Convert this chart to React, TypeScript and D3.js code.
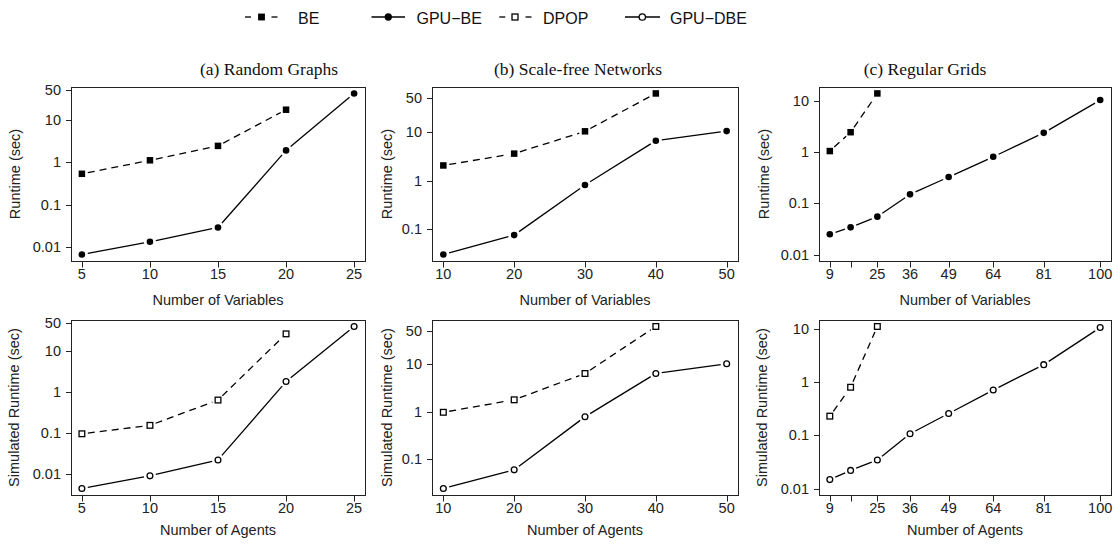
import React from "react";
import * as d3 from "d3";

// ---- data ----
const randomVars = [5, 10, 15, 20, 25];
const randomBE = [0.53, 1.1, 2.4, 17];
const randomGpuBE = [0.0067, 0.0134, 0.029, 1.88, 41];
const randomDPOP = [0.095, 0.153, 0.64, 27];
const randomGpuDBE = [0.0043, 0.0088, 0.0216, 1.82, 41];

const scaleFreeVars = [10, 20, 30, 40, 50];
const scaleFreeBE = [2.05, 3.6, 10.4, 63];
const scaleFreeGpuBE = [0.0296, 0.0747, 0.81, 6.66, 10.5];
const scaleFreeDPOP = [0.97, 1.78, 6.4, 63];
const scaleFreeGpuDBE = [0.0238, 0.059, 0.78, 6.4, 10.3];

const gridVars = [9, 16, 25, 36, 49, 64, 81, 100];
const gridTickLabels = ["9", "", "25", "36", "49", "64", "81", "100"];
const gridBE = [1.05, 2.45, 14];
const gridGpuBE = [0.0249, 0.034, 0.055, 0.15, 0.326, 0.81, 2.38, 10.4];
const gridDPOP = [0.229, 0.8, 11.1];
const gridGpuDBE = [0.0147, 0.0219, 0.0344, 0.107, 0.257, 0.71, 2.13, 10.6];

const panelTitles = ["(a) Random Graphs", "(b) Scale-free Networks", "(c) Regular Grids"];
const yTicksWide = [0.01, 0.1, 1, 10, 50];
const yTicksScaleFree = [0.1, 1, 10, 50];
const yTicksGrid = [0.01, 0.1, 1, 10];
const legendLabels = ["BE", "GPU\u2212BE", "DPOP", "GPU\u2212DBE"];

// ---- layout ----
const W = 1115;
const H = 550;
const SANS = "'Liberation Sans', Arial, Helvetica, sans-serif";
const SERIF = "'Liberation Serif', 'Times New Roman', serif";
const cols = [
  { x0: 71, x1: 365, titleX: 269, yLabX: [15, 14] },
  { x0: 432, x1: 738, titleX: 578, yLabX: [387, 387] },
  { x0: 819, x1: 1111, titleX: 925, yLabX: [764, 762] },
];
const rows = [
  { y0: 87, y1: 261, xTitle: "Number of Variables", yTitle: "Runtime (sec)", titleDy: 44 },
  { y0: 320, y1: 495, xTitle: "Number of Agents", yTitle: "Simulated Runtime (sec)", titleDy: 40 },
];

type Panel = {
  col: number;
  row: number;
  xs: number[];
  xLabels: string[];
  dashed: number[];
  solid: number[];
  yTicks: number[];
  yFloor?: number;
  open: boolean;
};

const panels: Panel[] = [
  { col: 0, row: 0, xs: randomVars, xLabels: randomVars.map(String), dashed: randomBE, solid: randomGpuBE, yTicks: yTicksWide, open: false },
  { col: 1, row: 0, xs: scaleFreeVars, xLabels: scaleFreeVars.map(String), dashed: scaleFreeBE, solid: scaleFreeGpuBE, yTicks: yTicksScaleFree, open: false },
  { col: 2, row: 0, xs: gridVars, xLabels: gridTickLabels, dashed: gridBE, solid: gridGpuBE, yTicks: yTicksGrid, yFloor: 0.01, open: false },
  { col: 0, row: 1, xs: randomVars, xLabels: randomVars.map(String), dashed: randomDPOP, solid: randomGpuDBE, yTicks: yTicksWide, open: true },
  { col: 1, row: 1, xs: scaleFreeVars, xLabels: scaleFreeVars.map(String), dashed: scaleFreeDPOP, solid: scaleFreeGpuDBE, yTicks: yTicksScaleFree, open: true },
  { col: 2, row: 1, xs: gridVars, xLabels: gridTickLabels, dashed: gridDPOP, solid: gridGpuDBE, yTicks: yTicksGrid, yFloor: 0.01, open: true },
];

// R-style axis range: data limits padded by 4% on each side
function padded(lo: number, hi: number): [number, number] {
  const s = hi - lo;
  return [lo - 0.04 * s, hi + 0.04 * s];
}

const SQ = 6.5;
const CR = 3.3;
const LW = 1.3;

function Marker({ x, y, kind, open, size = 1 }: { x: number; y: number; kind: "sq" | "ci"; open: boolean; size?: number }) {
  if (kind === "sq") {
    const s = (open ? SQ - 0.8 : SQ) * size;
    return (
      <rect x={x - s / 2} y={y - s / 2} width={s} height={s}
        fill={open ? "white" : "black"} stroke="black" strokeWidth={open ? LW : 0} />
    );
  }
  const r = (open ? CR - 0.4 : CR) * size;
  return <circle cx={x} cy={y} r={r} fill={open ? "white" : "black"} stroke="black" strokeWidth={open ? LW : 0} />;
}

// line segments between consecutive points, leaving a gap around each marker
function gappedSegments(pts: [number, number][], gap: number) {
  const segs: [number, number, number, number][] = [];
  for (let i = 0; i < pts.length - 1; i++) {
    const [ax, ay] = pts[i];
    const [bx, by] = pts[i + 1];
    const dx = bx - ax;
    const dy = by - ay;
    const len = Math.hypot(dx, dy);
    if (len <= 2 * gap) continue;
    const ux = dx / len;
    const uy = dy / len;
    segs.push([ax + ux * gap, ay + uy * gap, bx - ux * gap, by - uy * gap]);
  }
  return segs;
}

function PanelView({ p }: { p: Panel }) {
  const c = cols[p.col];
  const r = rows[p.row];
  const xd = padded(d3.min(p.xs)!, d3.max(p.xs)!);
  const x = d3.scaleLinear().domain(xd).range([c.x0, c.x1]);
  const all = [...p.dashed, ...p.solid];
  let lo = d3.min(all)!;
  if (p.yFloor !== undefined) lo = Math.min(lo, p.yFloor);
  const hi = d3.max(all)!;
  const [l0, l1] = padded(Math.log10(lo), Math.log10(hi));
  const y = d3.scaleLog().domain([Math.pow(10, l0), Math.pow(10, l1)]).range([r.y1, r.y0]);

  const dashedPts: [number, number][] = p.dashed.map((v, i) => [x(p.xs[i]), y(v)]);
  const solidPts: [number, number][] = p.solid.map((v, i) => [x(p.xs[i]), y(v)]);
  const fmt = (v: number) => String(v);

  return (
    <g>
      <rect x={c.x0 + 0.5} y={r.y0 + 0.5} width={c.x1 - c.x0} height={r.y1 - r.y0}
        fill="none" stroke="#222" strokeWidth={1} />
      {/* x axis */}
      {p.xs.map((v, i) => (
        <g key={"xt" + i}>
          <line x1={Math.round(x(v)) + 0.5} x2={Math.round(x(v)) + 0.5} y1={r.y1 + 0.5} y2={r.y1 + 6.5} stroke="#222" strokeWidth={1} />
          {p.xLabels[i] && (
            <text x={x(v)} y={r.y1 + 18} textAnchor="middle" fontFamily={SANS} fontSize={14.5} fill="#222">
              {p.xLabels[i]}
            </text>
          )}
        </g>
      ))}
      <text x={(c.x0 + c.x1) / 2} y={r.y1 + r.titleDy} textAnchor="middle" fontFamily={SANS} fontSize={14.5} fill="#222">
        {r.xTitle}
      </text>
      {/* y axis */}
      {p.yTicks.map((v) => (
        <g key={"yt" + v}>
          <line x1={c.x0 - 5} x2={c.x0 + 0.5} y1={Math.round(y(v)) + 0.5} y2={Math.round(y(v)) + 0.5} stroke="#222" strokeWidth={1} />
          <text x={c.x0 - 10} y={y(v) + 5} textAnchor="end" fontFamily={SANS} fontSize={14.5} fill="#222">
            {fmt(v)}
          </text>
        </g>
      ))}
      <text transform={`translate(${c.yLabX[p.row]},${(r.y0 + r.y1) / 2}) rotate(-90)`} textAnchor="middle"
        dominantBaseline="central" fontFamily={SANS} fontSize={14.5} fill="#222">
        {r.yTitle}
      </text>
      {/* series */}
      {gappedSegments(dashedPts, 6).map((s, i) => (
        <line key={"ds" + i} x1={s[0]} y1={s[1]} x2={s[2]} y2={s[3]} stroke="black" strokeWidth={LW} strokeDasharray="7,5" />
      ))}
      {gappedSegments(solidPts, 6).map((s, i) => (
        <line key={"ss" + i} x1={s[0]} y1={s[1]} x2={s[2]} y2={s[3]} stroke="black" strokeWidth={LW} />
      ))}
      {dashedPts.map(([px, py], i) => <Marker key={"dm" + i} x={px} y={py} kind="sq" open={p.open} />)}
      {solidPts.map(([px, py], i) => <Marker key={"sm" + i} x={px} y={py} kind="ci" open={p.open} />)}
    </g>
  );
}

function Legend() {
  const cy = 17;
  const ty = 23.5;
  const fs = 16;
  return (
    <g>
      {/* BE */}
      <line x1={245} x2={251} y1={cy} y2={cy} stroke="black" strokeWidth={LW} />
      <line x1={271.5} x2={277.5} y1={cy} y2={cy} stroke="black" strokeWidth={LW} />
      <Marker x={261.5} y={cy} kind="sq" open={false} size={1.05} />
      <text x={298} y={ty} fontFamily={SANS} fontSize={fs} fill="#111">{legendLabels[0]}</text>
      {/* GPU-BE */}
      <line x1={371.5} x2={405} y1={cy} y2={cy} stroke="black" strokeWidth={LW} />
      <Marker x={388.3} y={cy} kind="ci" open={false} size={1.1} />
      <text x={416.5} y={ty} fontFamily={SANS} fontSize={fs} fill="#111">{legendLabels[1]}</text>
      {/* DPOP */}
      <line x1={499.3} x2={505.3} y1={cy} y2={cy} stroke="black" strokeWidth={LW} />
      <line x1={525.5} x2={531.5} y1={cy} y2={cy} stroke="black" strokeWidth={LW} />
      <Marker x={515} y={cy} kind="sq" open={true} size={1.05} />
      <text x={543} y={ty} fontFamily={SANS} fontSize={fs} fill="#111">{legendLabels[2]}</text>
      {/* GPU-DBE */}
      <line x1={625} x2={660} y1={cy} y2={cy} stroke="black" strokeWidth={LW} />
      <Marker x={642.3} y={cy} kind="ci" open={true} size={1.1} />
      <text x={670} y={ty} fontFamily={SANS} fontSize={fs} fill="#111">{legendLabels[3]}</text>
    </g>
  );
}

export default function App() {
  return (
    <svg width={W} height={H} viewBox={`0 0 ${W} ${H}`} style={{ display: "block", position: "absolute", left: 0, top: 0, background: "white" }}>
      <rect width={W} height={H} fill="white" />
      <Legend />
      {panelTitles.map((t, i) => (
        <text key={t} x={cols[i].titleX} y={75} textAnchor="middle" fontFamily={SERIF} fontSize={17.5} fill="#111">
          {t}
        </text>
      ))}
      {panels.map((p, i) => <PanelView key={i} p={p} />)}
    </svg>
  );
}
